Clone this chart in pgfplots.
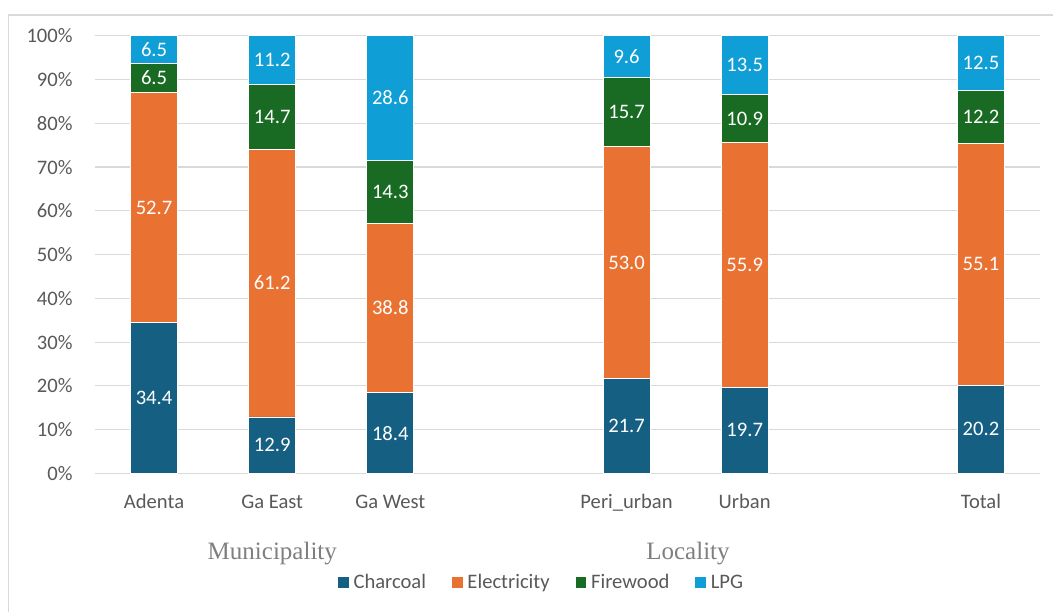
\documentclass[border=0pt]{standalone}
\usepackage{pgfplots}
\pgfplotsset{compat=1.18}
\usepackage{pgfplotstable}
\usepackage{fontspec}
\setmainfont{Carlito}
\newfontfamily\titleserif{Liberation Serif}

\definecolor{charcoal}{HTML}{156082}
\definecolor{electricity}{HTML}{E97132}
\definecolor{firewood}{HTML}{196B24}
\definecolor{lpg}{HTML}{0F9ED5}
\definecolor{txt}{HTML}{595959}
\definecolor{grouptxt}{HTML}{7F7F7F}
\definecolor{gridc}{HTML}{D9D9D9}

% Share of households by main cooking fuel (%)
% x: 0-2 municipalities, 4-5 localities, 7 total
\pgfplotstableread{
x  charcoal electricity firewood lpg
0  34.4     52.7        6.5      6.5
1  12.9     61.2        14.7     11.2
2  18.4     38.8        14.3     28.6
4  21.7     53.0        15.7     9.6
5  19.7     55.9        10.9     13.5
7  20.2     55.1        12.2     12.5
}\fuels

\pgfplotsset{
  seg/.style={
    fill=#1, draw=white, line width=0.4pt,
  },
  col/.style={
    table/x=x, table/y=#1, table/meta=#1,
    visualization depends on={\thisrow{#1}\as\segval},
  },
}

\begin{document}
\begin{tikzpicture}
\useasboundingbox (0pt,0pt) rectangle (526.5pt,305.5pt);
\draw[gridc, line width=0.6pt] (4.25pt,-20pt) rectangle (560pt,298pt);
% rounded shares can sum to 100.1, so leave that much headroom
\begin{axis}[
  at={(47.5pt,68.8pt)}, anchor=south west,
  scale only axis, width=472.5pt, height=219.02pt,
  ybar stacked, bar width=23.5pt,
  xmin=-0.5, xmax=7.5, ymin=0, ymax=100.1,
  xtick={0,1,2,4,5,7},
  xticklabels={Adenta, Ga East, Ga West, Peri\_urban, Urban, Total},
  ytick={0,10,...,100},
  yticklabel={\pgfmathprintnumber{\tick}\%},
  /pgf/number format/assume math mode=true,
  ymajorgrids, grid style={gridc, line width=0.6pt},
  axis line style={draw=none},
  major tick length=0pt,
  tick label style={font=\fontsize{10.3}{12}\selectfont, text=txt},
  xticklabel style={anchor=base, inner sep=0pt, yshift=-17.5pt},
  yticklabel style={anchor=east, inner sep=0pt, xshift=-11pt},
  point meta=explicit,
  nodes near coords={\pgfmathprintnumber[fixed,fixed zerofill,precision=1]{\segval}},
  every node near coord/.append style={font=\fontsize{10.3}{12}\selectfont, text=white,
    anchor=center},
  legend columns=-1,
  legend style={at={(0.2558,-0.2505)}, anchor=west, draw=none, fill=none,
    inner sep=0pt, font=\fontsize{10.3}{12}\selectfont, text=txt,
    /tikz/every even column/.append style={column sep=10.5pt}},
  legend image code/.code={\fill[#1] (0pt,-2.4pt) rectangle (5.8pt,3.4pt);},
]
\addplot+[seg=charcoal] table[col=charcoal] {\fuels};
\addplot+[seg=electricity] table[col=electricity] {\fuels};
\addplot+[seg=firewood] table[col=firewood] {\fuels};
\addplot+[seg=lpg] table[col=lpg] {\fuels};
\legend{Charcoal, Electricity, Firewood, LPG}
\end{axis}
\node[anchor=base, font=\titleserif\fontsize{12.5}{14}\selectfont, text=grouptxt] at (136.15pt,25.75pt) {Municipality};
\node[anchor=base, font=\titleserif\fontsize{12.5}{14}\selectfont, text=grouptxt] at (344pt,25.75pt) {Locality};
\end{tikzpicture}
\end{document}
